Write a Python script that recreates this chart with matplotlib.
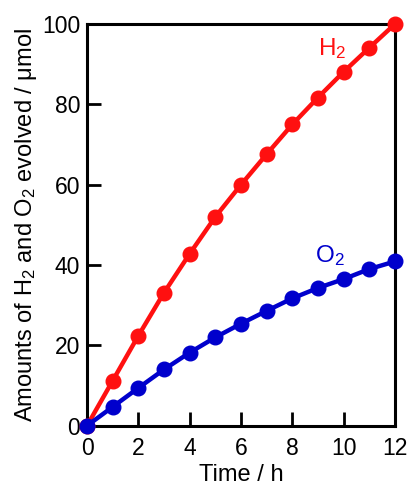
import matplotlib
matplotlib.use("Agg")
import matplotlib.pyplot as plt

plt.rcParams['font.family'] = ['Liberation Sans', 'DejaVu Sans']
plt.rcParams['mathtext.default'] = 'regular'

time_h = [0, 1, 2, 3, 4, 5, 6, 7, 8, 9, 10, 11, 12]
h2_umol = [0, 11.2, 22.4, 33.1, 42.8, 52.0, 60.0, 67.6, 75.0, 81.7, 88.1, 94.1, 100.0]
o2_umol = [0, 4.7, 9.4, 14.0, 18.2, 22.0, 25.4, 28.6, 31.7, 34.3, 36.5, 39.0, 40.9]
x_ticks = [0, 2, 4, 6, 8, 10, 12]
y_ticks = [0, 20, 40, 60, 80, 100]

red = '#ff1010'
blue = '#0000cc'

fig = plt.figure(figsize=(4.10, 4.86), dpi=100)
ax = fig.add_axes([0.2122, 0.124, 0.7512, 0.8266])

ax.plot(time_h, h2_umol, '-o', color=red, lw=3.2, ms=10.5, clip_on=False, zorder=3)
ax.plot(time_h, o2_umol, '-o', color=blue, lw=3.2, ms=10.5, clip_on=False, zorder=4)

ax.set_xlim(0, 12)
ax.set_ylim(0, 100)
ax.set_xticks(x_ticks)
ax.set_yticks(y_ticks)
ax.tick_params(direction='in', length=10, width=2, labelsize=16.5,
               top=False, right=False)
ax.tick_params(axis='x', pad=8)
ax.tick_params(axis='y', pad=5)
for s in ax.spines.values():
    s.set_linewidth(2.2)

ax.set_xlabel('Time / h', fontsize=17, labelpad=3)
ax.set_ylabel('Amounts of H$_2$ and O$_2$ evolved / μmol', fontsize=17, labelpad=2)

ax.text(9.0, 92.3, 'H$_2$', color=red, fontsize=17.5, va='baseline', ha='left')
ax.text(8.9, 40.8, 'O$_2$', color=blue, fontsize=17.5, va='baseline', ha='left')

fig.savefig('out.png', dpi=100)
